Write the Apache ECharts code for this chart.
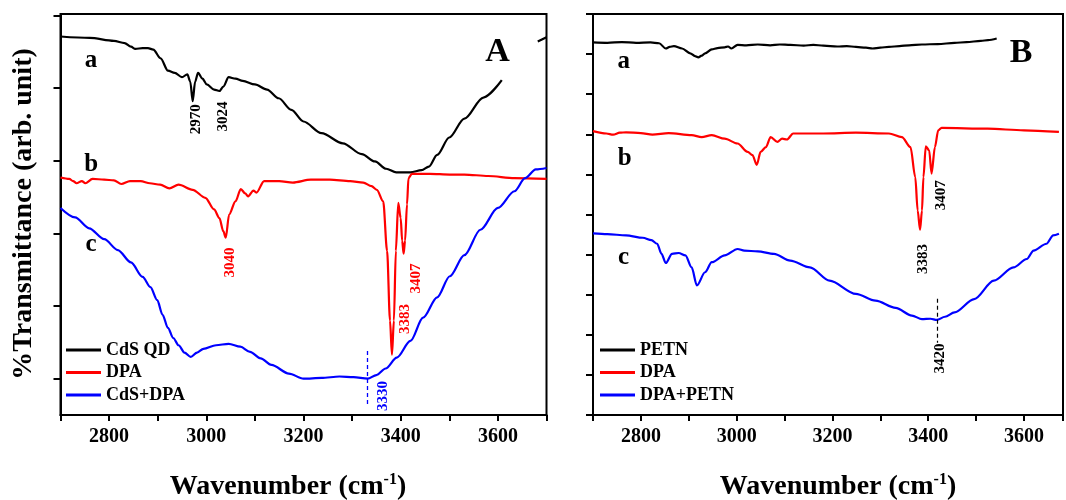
<!DOCTYPE html>
<html>
<head>
<meta charset="utf-8">
<script src="https://cdn.jsdelivr.net/npm/echarts@6/dist/echarts.min.js"></script>
<style>
html,body{margin:0;padding:0;background:#fff;}
#chart{width:1066px;height:500px;}
</style>
</head>
<body>
<div id="chart"></div>
<script>
// ---------- DATA (wavenumber cm-1, transmittance arb. units) ----------
// Panel A
const cdsQD = [[2700,5.21],[2760,5.19],[2810,5.15],[2832,5.12],[2845,5.07],[2854,5.04],[2869,5.05],[2880,5.05],[2891,5.03],[2906,4.91],[2921,4.74],[2935,4.71],[2950,4.65],[2961,4.69],[2967,4.59],[2972,4.32],[2977,4.59],[2983,4.71],[2992,4.63],[3001,4.55],[3016,4.48],[3027,4.46],[3035,4.52],[3046,4.65],[3060,4.63],[3075,4.60],[3100,4.55],[3125,4.48],[3149,4.36],[3175,4.20],[3200,4.04],[3237,3.88],[3281,3.74],[3320,3.59],[3347,3.49],[3370,3.39],[3391,3.34],[3420,3.34],[3443,3.37],[3458,3.42],[3475,3.58],[3500,3.82],[3531,4.08],[3570,4.37],[3608,4.61],[3645,null],[3682,5.14],[3700,5.20]];
const dpaA = [[2700,3.27],[2718,3.25],[2726,3.22],[2733,3.19],[2744,3.22],[2751,3.19],[2766,3.25],[2790,3.24],[2810,3.23],[2825,3.18],[2843,3.22],[2865,3.22],[2884,3.19],[2905,3.17],[2924,3.12],[2943,3.17],[2972,3.10],[2998,2.99],[3016,2.83],[3027,2.71],[3035,2.53],[3040,2.44],[3047,2.76],[3060,2.94],[3071,3.11],[3080,3.05],[3086,3.01],[3097,3.09],[3103,3.06],[3119,3.22],[3150,3.22],[3178,3.20],[3215,3.24],[3254,3.24],[3296,3.22],[3323,3.20],[3340,3.15],[3351,3.10],[3364,2.94],[3372,2.26],[3378,1.30],[3382,0.83],[3386,1.30],[3390,2.26],[3395,2.92],[3400,2.71],[3403,2.40],[3406,2.22],[3409,2.40],[3413,2.90],[3416,3.26],[3423,3.32],[3460,3.32],[3501,3.31],[3531,3.31],[3580,3.29],[3634,3.26],[3700,3.25]];
const cdsDpa = [[2700,2.85],[2730,2.72],[2759,2.57],[2790,2.42],[2818,2.27],[2845,2.10],[2869,1.90],[2885,1.76],[2899,1.58],[2910,1.38],[2921,1.20],[2932,1.06],[2943,0.96],[2955,0.86],[2968,0.80],[2981,0.86],[2994,0.91],[3020,0.96],[3046,0.98],[3070,0.94],[3090,0.87],[3112,0.78],[3134,0.69],[3170,0.57],[3200,0.50],[3237,0.51],[3274,0.53],[3303,0.52],[3332,0.50],[3350,0.55],[3369,0.64],[3392,0.79],[3420,1.02],[3446,1.34],[3475,1.62],[3501,1.91],[3531,2.20],[3564,2.55],[3600,2.85],[3634,3.08],[3656,3.26],[3678,3.38],[3700,3.40]];
// Panel B
const petn = [[2700,9.29],[2730,9.28],[2760,9.30],[2790,9.28],[2820,9.29],[2838,9.27],[2852,9.14],[2860,9.18],[2869,9.20],[2886,9.14],[2903,9.02],[2913,8.95],[2920,8.92],[2927,8.96],[2934,9.02],[2948,9.12],[2960,9.15],[2975,9.17],[2982,9.19],[2989,9.14],[3002,9.23],[3020,9.22],[3044,9.24],[3070,9.22],[3090,9.24],[3112,9.23],[3140,9.21],[3160,9.23],[3181,9.21],[3210,9.19],[3230,9.20],[3249,9.18],[3270,9.16],[3284,9.14],[3300,9.16],[3318,9.18],[3340,9.20],[3360,9.22],[3387,9.24],[3420,9.25],[3455,9.28],[3480,9.30],[3510,9.33],[3525,9.35],[3543,9.39]];
const dpaB = [[2700,7.08],[2728,7.02],[2742,6.99],[2756,7.04],[2769,7.05],[2800,7.03],[2824,6.99],[2858,7.03],[2906,6.98],[2927,6.93],[2948,6.98],[2975,6.89],[3002,6.77],[3023,6.56],[3033,6.48],[3042,6.24],[3050,6.56],[3061,6.68],[3071,6.93],[3085,6.81],[3095,6.89],[3105,6.87],[3118,7.02],[3181,7.02],[3249,7.04],[3318,7.02],[3345,6.93],[3363,6.68],[3373,5.93],[3378,5.10],[3383,4.62],[3387,5.10],[3390,5.93],[3395,6.70],[3402,6.60],[3407,6.02],[3414,6.68],[3421,7.10],[3428,7.16],[3524,7.14],[3600,7.10],[3673,7.06]];
const dpaPetn = [[2700,4.53],[2730,4.51],[2769,4.48],[2804,4.42],[2822,4.36],[2834,4.27],[2843,4.02],[2852,3.79],[2865,4.02],[2879,4.04],[2893,3.98],[2906,3.68],[2917,3.23],[2934,3.56],[2948,3.81],[2975,3.98],[3002,4.14],[3016,4.10],[3044,4.08],[3078,4.02],[3112,3.85],[3153,3.68],[3194,3.35],[3249,3.02],[3290,2.85],[3332,2.67],[3366,2.48],[3387,2.39],[3405,2.40],[3418,2.37],[3435,2.45],[3455,2.56],[3496,2.89],[3537,3.35],[3578,3.68],[3606,3.89],[3620,4.10],[3647,4.27],[3661,4.48],[3673,4.52]];

const xTickLabels = ['2800','3000','3200','3400','3600'];
const yTicksA = [0.5,1.5,2.5,3.5,4.5,5.5];
const legendA = ['CdS QD','DPA','CdS+DPA'];
const legendB = ['PETN','DPA','DPA+PETN'];
const peakLinesA = [[3332,0.88],[3332,0.15]];
const peakLinesB = [[3419,2.90],[3419,1.80]];
// annotation texts: [text, wavenumber, value]
const peaksA = [['2970',2979,4.07,'#000'],['3024',3034,4.11,'#000'],['3040',3049,2.10,'#ff0000'],['3383',3409,1.32,'#ff0000'],['3407',3431,1.88,'#ff0000'],['3330',3364,0.26,'#0000ff']];
const peaksB = [['3407',3426,5.48,'#000'],['3383',3390,3.89,'#000'],['3420',3424,1.41,'#000']];
const tagsA = [['a',2763,4.88],['b',2763,3.45],['c',2763,2.34]];
const tagsB = [['a',2764,8.81],['b',2766,6.39],['c',2764,3.93]];

// ---------- CHART ----------
const FONT = 'Liberation Serif';
const chart = echarts.init(document.getElementById('chart'), null, {renderer:'canvas'});

function xAxisCfg(gi, max){
  return {
    gridIndex: gi, type:'value', min:2700, max:max, interval:100,
    axisLine:{show:true, onZero:false, lineStyle:{color:'#000', width:2}},
    axisTick:{show:true, length:6, lineStyle:{color:'#000', width:2}},
    axisLabel:{show:true, margin:12, color:'#000', fontFamily:FONT, fontWeight:'bold', fontSize:20,
      formatter: v => xTickLabels.indexOf(String(v)) >= 0 ? String(v) : ''},
    splitLine:{show:false}
  };
}
function lineSeries(name, data, color, xi){
  return {
    name, type:'line', data, xAxisIndex:xi, yAxisIndex:xi,
    showSymbol:false, symbol:'none', smooth:0.3, smoothMonotone:'x',
    lineStyle:{color, width:2.2}, itemStyle:{color}, emphasis:{disabled:true}
  };
}
function legendCfg(left, data){
  return {
    orient:'vertical', left, top:341, padding:0, itemWidth:35, itemHeight:3, itemGap:4.5,
    icon:'rect', selectedMode:false, data,
    textStyle:{color:'#000', fontFamily:FONT, fontWeight:'bold', fontSize:18, lineHeight:18, padding:[0,0,0,0]}
  };
}

const sA = lineSeries('CdS QD', cdsQD, '#000000', 0);
const sB = lineSeries('DPA', dpaA, '#ff0000', 0);
const sC = lineSeries('CdS+DPA', cdsDpa, '#0000ff', 0);
sC.markLine = {silent:true, symbol:'none', label:{show:false},
  lineStyle:{color:'#0000ff', type:[4,3], width:1.3},
  data:[[{coord:peakLinesA[0]},{coord:peakLinesA[1]}]]};
const sD = lineSeries('PETN', petn, '#000000', 1);
const sE = lineSeries('DPA', dpaB, '#ff0000', 1);
const sF = lineSeries('DPA+PETN', dpaPetn, '#0000ff', 1);
sF.markLine = {silent:true, symbol:'none', label:{show:false},
  lineStyle:{color:'#000', type:[4,3], width:1.2},
  data:[[{coord:peakLinesB[0]},{coord:peakLinesB[1]}]]};

const option = {
  animation:false,
  backgroundColor:'#fff',
  grid:[
    {left:60.5, top:14, width:486, height:401, show:true, borderColor:'#000', borderWidth:2, backgroundColor:'transparent'},
    {left:593, top:14, width:477, height:401, show:true, borderColor:'#000', borderWidth:2, backgroundColor:'transparent'}
  ],
  xAxis:[xAxisCfg(0,3700), xAxisCfg(1,3681.5)],
  yAxis:[
    {gridIndex:0, type:'value', min:0, max:5.52,
     axisLine:{show:true, lineStyle:{color:'#000', width:2}},
     axisTick:{show:true, length:7, customValues:yTicksA, lineStyle:{color:'#000', width:2}},
     axisLabel:{show:false}, splitLine:{show:false}},
    {gridIndex:1, type:'value', min:0, max:10, interval:1,
     axisLine:{show:true, lineStyle:{color:'#000', width:2}},
     axisTick:{show:true, length:7, lineStyle:{color:'#000', width:2}},
     axisLabel:{show:false}, splitLine:{show:false}}
  ],
  legend:[legendCfg(66, legendA), legendCfg(600, legendB)],
  series:[sA,sB,sC,sD,sE,sF]
};
chart.setOption(option);

// ---------- annotations placed through the coordinate systems ----------
function px(gi, x, y){ return chart.convertToPixel({gridIndex:gi}, [x, y]); }
function txt(text, p, size, color, rot){
  return {type:'text', x:p[0], y:p[1], rotation: rot ? Math.PI/2 : 0, silent:true,
    style:{text, fill:color, font:'bold '+size+'px "'+FONT+'"', textAlign:'center', textVerticalAlign:'middle', verticalAlign:'middle'}};
}
const g = [];
peaksA.forEach(a => g.push(txt(a[0], px(0,a[1],a[2]), 15, a[3], true)));
peaksB.forEach(a => g.push(txt(a[0], px(1,a[1],a[2]), 15, a[3], true)));
tagsA.forEach(a => g.push(txt(a[0], px(0,a[1],a[2]), 25, '#000', false)));
tagsB.forEach(a => g.push(txt(a[0], px(1,a[1],a[2]), 25, '#000', false)));
g.push(txt('A', px(0,3599,4.99), 34, '#000', false));
g.push(txt('B', px(1,3594,9.02), 34, '#000', false));
g.push(txt('%Transmittance (arb. unit)', [24, 214], 28, '#000', true));
function xTitle(cx){
  return {type:'text', x:cx, y:487, silent:true,
    style:{text:'{a|Wavenumber (cm}{s|-1}{a|)}', fill:'#000', textAlign:'center', textVerticalAlign:'middle', verticalAlign:'middle',
      rich:{a:{fontFamily:FONT, fontWeight:'bold', fontSize:28, lineHeight:30, fill:'#000', color:'#000'},
            s:{fontFamily:FONT, fontWeight:'bold', fontSize:16, lineHeight:30, verticalAlign:'top', fill:'#000', color:'#000'}}}};
}
g.push(xTitle(288));
g.push(xTitle(838));
chart.setOption({graphic:g});
</script>
</body>
</html>
